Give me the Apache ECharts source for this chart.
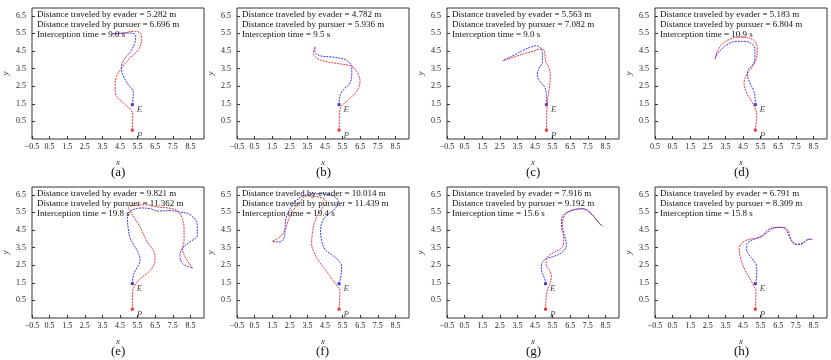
<!DOCTYPE html>
<html>
<head>
<meta charset="utf-8">
<script src="https://cdn.jsdelivr.net/npm/echarts@6/dist/echarts.min.js"></script>
<style>
  html, body { margin: 0; padding: 0; background: #fff; }
  #myChart { width: 831px; height: 360px; }
</style>
</head>
<body>
<div id="myChart"></div>
<script>
// tick labels (axis starts at the first one, step 1)
var xTicks = [-0.5, 0.5, 1.5, 2.5, 3.5, 4.5, 5.5, 6.5, 7.5, 8.5];
var yTicks = [0.5, 1.5, 2.5, 3.5, 4.5, 5.5, 6.5];

// panel captions + numbers printed in each panel
var captions = ['(a)', '(b)', '(c)', '(d)', '(e)', '(f)', '(g)', '(h)'];
var evaderDist = ['5.282', '4.782', '5.563', '5.183', '9.821', '10.014', '7.916', '6.791'];
var pursuerDist = ['6.696', '5.936', '7.082', '6.804', '11.362', '11.439', '9.192', '8.309'];
var catchTime = ['9.0', '9.5', '9.0', '10.9', '19.8', '19.4', '15.6', '15.8'];

// start points: pursuer P and evader E
var startP = [[5.2, 0], [5.3, 0], [5.15, 0], [5.2, 0], [5.2, 0], [5.3, 0], [5.1, 0], [5.2, 0]];
var startE = [[5.2, 1.45], [5.3, 1.45], [5.15, 1.45], [5.2, 1.45], [5.2, 1.45], [5.3, 1.45], [5.1, 1.45], [5.2, 1.45]];

// pursuer (red) trajectories
var pursA = [[5.2,0],[5.22,0.88],[4.69,1.55],[4.31,1.92],[4.22,2.49],[4.31,3.06],[4.59,3.53],[5.07,4.1],[5.54,4.58],[5.73,5.14],[5.64,5.52],[5.26,5.62],[4.69,5.52],[4.12,5.47]];
var pursB = [[5.3,0],[5.35,1.17],[5.83,1.73],[6.3,2.21],[6.49,2.78],[6.3,3.34],[6.02,3.63],[5.26,3.78],[4.5,3.91],[4.03,4.1],[3.84,4.39],[3.93,4.71]];
var pursC = [[5.15,0],[5.18,1.36],[5.24,1.92],[5.33,2.49],[5.37,3.06],[5.3,3.53],[5.11,3.91],[5.05,4.39],[4.95,4.61],[4.67,4.58],[4.39,4.48],[4.01,4.39],[3.44,4.2],[2.87,4.01],[2.68,3.95]];
var pursD = [[5.2,0],[5.28,0.88],[5.18,1.26],[4.99,1.64],[4.71,2.11],[4.56,2.68],[4.71,3.16],[4.99,3.53],[5.24,4.01],[5.31,4.58],[5.18,5.05],[4.8,5.24],[4.33,5.28],[3.76,5.18],[3.29,4.86],[3.04,4.48],[2.91,4.05]];
var pursE = [[5.2,0],[5.22,0.98],[5.35,1.36],[5.64,1.73],[6.02,2.02],[6.36,2.4],[6.49,2.87],[6.39,3.34],[6.11,3.72],[5.86,4.2],[5.64,4.67],[5.35,5.14],[5.11,5.52],[4.97,5.81],[5.35,5.9],[5.92,5.94],[6.58,5.81],[7.25,5.75],[7.72,5.62],[8.0,5.24],[8.14,4.58],[8.14,3.91],[8.06,3.44],[8.25,2.87],[8.63,2.34]];
var pursF = [[5.3,0],[5.35,0.98],[5.16,1.36],[4.88,1.73],[4.54,2.21],[4.18,2.68],[3.89,3.21],[3.74,3.72],[3.78,4.29],[3.89,4.86],[4.08,5.33],[4.35,5.75],[4.6,6.09],[4.12,6.38],[3.46,6.43],[3.08,6.09],[2.7,5.62],[2.42,5.05],[2.23,4.48],[1.94,4.1],[1.47,3.86]];
var pursG = [[5.1,0],[5.18,0.98],[5.33,1.39],[5.43,1.83],[5.33,2.21],[5.14,2.49],[5.14,2.78],[5.3,3.06],[5.62,3.25],[5.94,3.44],[6.13,3.78],[6.13,4.29],[6.05,4.77],[6.13,5.24],[6.38,5.52],[6.75,5.67],[7.08,5.71],[7.42,5.62],[7.8,5.3],[8.08,4.95],[8.33,4.71]];
var pursH = [[5.2,0],[5.24,0.98],[5.09,1.36],[4.9,1.73],[4.67,2.11],[4.46,2.59],[4.33,3.06],[4.29,3.44],[4.39,3.72],[4.67,3.91],[5.05,4.01],[5.47,4.08],[5.84,4.33],[6.19,4.58],[6.6,4.65],[6.98,4.58],[7.13,4.29],[7.21,3.97],[7.4,3.72],[7.74,3.67],[8.02,3.82],[8.25,3.99],[8.44,3.97]];

// evader (blue) trajectories
var evadA = [[5.2,1.45],[5.26,2.15],[4.97,2.59],[4.65,3.16],[4.59,3.53],[4.73,4.01],[5.11,4.48],[5.35,4.99],[5.39,5.37],[5.16,5.52],[4.69,5.52],[4.03,5.47]];
var evadB = [[5.3,1.45],[5.35,1.92],[5.54,2.3],[5.92,2.68],[6.02,3.25],[6.02,3.63],[5.79,3.91],[5.54,4.05],[4.88,4.16],[4.22,4.23],[3.93,4.48],[3.93,4.77]];
var evadC = [[5.15,1.45],[5.14,2.02],[5.05,2.45],[4.77,2.78],[4.63,3.16],[4.73,3.53],[4.92,3.91],[4.92,4.39],[4.82,4.67],[4.58,4.8],[4.29,4.73],[3.91,4.58],[3.44,4.33],[2.97,4.1],[2.68,3.95]];
var evadD = [[5.2,1.45],[5.18,1.92],[5.09,2.3],[4.9,2.68],[4.75,3.16],[4.8,3.44],[5.05,3.72],[5.18,4.1],[5.18,4.58],[4.99,4.9],[4.61,5.05],[4.14,5.05],[3.67,4.9],[3.29,4.61],[3.04,4.33],[2.91,4.05]];
var evadE = [[5.2,1.45],[5.26,1.92],[5.45,2.34],[5.64,2.78],[5.54,3.21],[5.3,3.63],[5.07,4.05],[4.97,4.58],[4.92,5.14],[4.97,5.43],[5.26,5.66],[5.73,5.75],[6.2,5.71],[6.68,5.58],[7.34,5.6],[7.91,5.52],[8.48,5.37],[8.89,4.77],[8.89,4.2],[8.48,3.82],[8.1,3.53],[7.91,3.06],[8.06,2.59],[8.63,2.34]];
var evadF = [[5.3,1.45],[5.41,1.92],[5.45,2.4],[5.26,2.78],[4.88,3.1],[4.5,3.4],[4.31,3.91],[4.25,4.48],[4.35,4.99],[4.65,5.37],[5.07,5.71],[5.26,6.09],[4.97,6.43],[4.12,6.56],[3.36,6.47],[2.89,6.19],[2.51,5.71],[2.28,5.14],[2.23,4.58],[2.19,4.1],[1.89,3.82],[1.47,3.86]];
var evadG = [[5.1,1.45],[5.05,1.73],[4.9,2.08],[4.86,2.45],[5.0,2.78],[5.24,2.91],[5.62,3.02],[6.05,3.25],[6.28,3.63],[6.2,4.1],[6.02,4.58],[6.0,5.05],[6.13,5.37],[6.47,5.56],[6.85,5.67],[7.23,5.71],[7.61,5.52],[7.95,5.14],[8.33,4.71]];
var evadH = [[5.2,1.45],[5.28,1.92],[5.28,2.4],[5.09,2.78],[4.86,3.06],[4.71,3.36],[4.71,3.67],[4.9,3.88],[5.24,4.01],[5.62,4.2],[5.89,4.48],[6.22,4.63],[6.64,4.65],[6.93,4.54],[7.08,4.23],[7.27,3.91],[7.55,3.69],[7.89,3.76],[8.16,3.95],[8.44,3.97]];

var pursuers = [pursA, pursB, pursC, pursD, pursE, pursF, pursG, pursH];
var evaders = [evadA, evadB, evadC, evadD, evadE, evadF, evadG, evadH];

var myChart = echarts.init(document.getElementById('myChart'));

var colLeft = [32, 237, 447, 655];
var rowTop = [8, 187];
var boxW = 172, boxH = 131;
var serif = 'Liberation Serif';

function tickText(v, noMinus) {
    var s = Math.abs(v).toFixed(1);
    if (v < 0 && !noMinus) s = '\u2212' + s;
    return s;
}

var grids = [], xAxes = [], yAxes = [], series = [], graphics = [];
for (var i = 0; i < 8; i++) {
    var gLeft = colLeft[i % 4], gTop = rowTop[Math.floor(i / 4)];
    grids.push({
        left: gLeft, top: gTop, width: boxW, height: boxH,
        show: true, borderColor: '#333', borderWidth: 1, backgroundColor: 'rgba(0,0,0,0)'
    });
    xAxes.push({
        gridIndex: i, type: 'value', min: xTicks[0], max: xTicks[0] + boxW / 17.6, interval: 1,
        name: 'x', nameLocation: 'middle', nameGap: 19,
        nameTextStyle: { fontFamily: serif, fontStyle: 'italic', fontSize: 9, color: '#333' },
        axisLine: { show: false, onZero: false },
        splitLine: { show: false },
        axisTick: { show: true, inside: true, length: 3, lineStyle: { color: '#333' } },
        axisLabel: {
            margin: 4, fontFamily: serif, fontSize: 8, color: '#222', showMaxLabel: false,
            formatter: i === 3 ? function (v) { return tickText(v, true); } : function (v) { return tickText(v, false); }
        }
    });
    yAxes.push({
        gridIndex: i, type: 'value', min: yTicks[0] - 1, max: yTicks[0] - 1 + boxH / 17.6, interval: 1,
        name: 'y', nameLocation: 'middle', nameGap: 22,
        nameTextStyle: { fontFamily: serif, fontStyle: 'italic', fontSize: 9, color: '#333' },
        axisLine: { show: false, onZero: false },
        splitLine: { show: false },
        axisTick: { show: true, inside: true, length: 3, lineStyle: { color: '#333' } },
        axisLabel: { margin: 6, fontFamily: serif, fontSize: 8, color: '#222',
            showMinLabel: false, showMaxLabel: false,
            formatter: function (v) { return v.toFixed(1); } }
    });

    series.push({
        type: 'line', xAxisIndex: i, yAxisIndex: i, data: pursuers[i],
        symbol: 'none', smooth: 0.4, silent: true,
        lineStyle: { color: '#ee3535', width: 1, type: [2, 1] }
    });
    series.push({
        type: 'line', xAxisIndex: i, yAxisIndex: i, data: evaders[i],
        symbol: 'none', smooth: 0.4, silent: true,
        lineStyle: { color: '#3a3aee', width: 1, type: [2, 1] }
    });
    series.push({
        type: 'scatter', xAxisIndex: i, yAxisIndex: i, data: [startP[i]],
        symbol: 'rect', symbolSize: 3, itemStyle: { color: '#e01010' },
        label: { show: true, formatter: 'P', position: 'right', offset: [-2, 5],
            fontFamily: serif, fontStyle: 'italic', fontSize: 9, color: '#222' }
    });
    series.push({
        type: 'scatter', xAxisIndex: i, yAxisIndex: i, data: [startE[i]],
        symbol: 'rect', symbolSize: 3, itemStyle: { color: '#1010d0' },
        label: { show: true, formatter: 'E', position: 'right', offset: [-2, 5],
            fontFamily: serif, fontStyle: 'italic', fontSize: 9, color: '#222' }
    });

    var lines = [
        'Distance traveled by evader = ' + evaderDist[i] + ' m',
        'Distance traveled by pursuer = ' + pursuerDist[i] + ' m',
        'Interception time = ' + catchTime[i] + ' s'
    ];
    for (var j = 0; j < 3; j++) {
        graphics.push({
            type: 'text', x: gLeft + 5, y: gTop + 2 + j * 10, z: 10,
            style: { text: lines[j], fontFamily: serif, fontSize: 9, fill: '#111' }
        });
    }
    graphics.push({
        type: 'text', x: gLeft + boxW / 2 - 7, y: gTop + 158,
        style: { text: captions[i], fontFamily: serif, fontSize: 13, fill: '#111' }
    });
}

var option = {
    animation: false,
    backgroundColor: '#fff',
    grid: grids,
    xAxis: xAxes,
    yAxis: yAxes,
    series: series,
    graphic: graphics
};
myChart.setOption(option);
</script>
</body>
</html>
